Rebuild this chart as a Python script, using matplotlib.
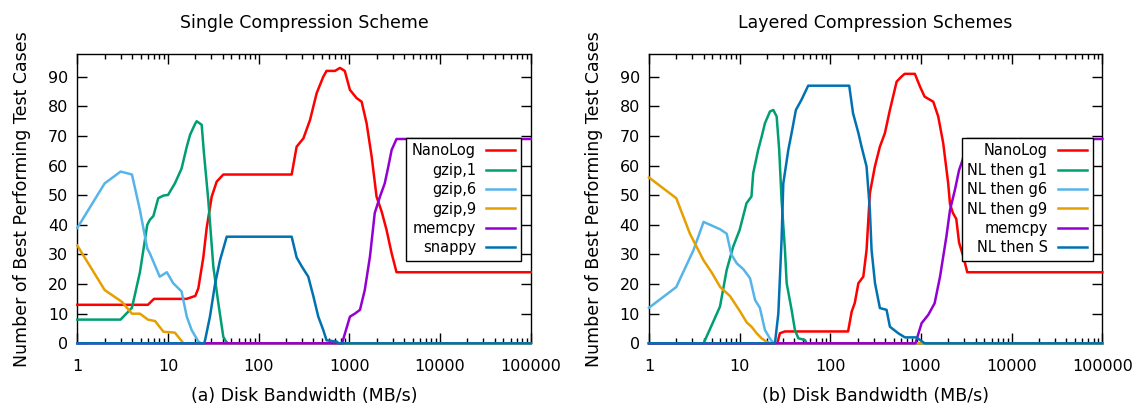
import matplotlib
matplotlib.use('Agg')
import matplotlib.pyplot as plt
from matplotlib.ticker import FixedLocator, LogLocator, NullFormatter

plt.rcParams['font.family'] = ['DejaVu Sans']

COLORS = {'red': '#ff0000', 'green': '#009e73', 'sky': '#56b4e9',
          'orange': '#e69f00', 'purple': '#9400d3', 'blue': '#0072b2'}

# ---- (a) single compression scheme ----
a_nanolog_x = [1, 6, 7, 16, 20, 21.6, 24.5, 26.7, 30.3, 34.4, 40.7, 231, 262, 311, 368,
               436, 515, 560, 694, 787, 890, 1014, 1202, 1365, 1549, 1762, 1995, 2270,
               2570, 2925, 3311, 100000]
a_nanolog_y = [13, 13, 15, 15, 16, 18.6, 29, 39, 49.5, 54.6, 57, 57, 66.4, 69.2, 75.4,
               84.5, 90, 92, 92, 93, 92, 85.6, 82.8, 81.6, 74.3, 63, 49.5, 44.5,
               38.3, 30.4, 24, 24]
a_gzip1_x = [1, 3, 4, 4.9, 5.9, 6.3, 6.9, 7.8, 8.9, 10, 11.9, 14.1, 16.1, 17.5, 19.8,
             20.7, 23.5, 24.9, 27.8, 31.6, 35.9, 40.7, 43.6, 46, 100000]
a_gzip1_y = [8, 8, 12, 24, 40, 41.7, 43, 49, 49.9, 50.1, 54, 59, 66.4, 70.4, 74,
             75, 73.8, 64.2, 48.4, 25.9, 13.5, 2.2, 0.6, 0, 0]
a_gzip6_x = [1, 2, 3, 4, 4.9, 5.9, 6.3, 8.1, 9.7, 11.4, 14.1, 16.1, 18.2, 21.6, 23, 100000]
a_gzip6_y = [39, 54, 58, 57, 45, 32, 30.4, 22.5, 24, 20.3, 17.5, 9, 4.5, 0.6, 0, 0]
a_gzip9_x = [1, 2, 3.1, 4, 4.9, 6, 7.2, 8.9, 11.9, 14.8, 100000]
a_gzip9_y = [33, 18, 14, 10, 10, 8, 7.5, 3.9, 3.6, 0, 0]
a_memcpy_x = [1, 830, 1015, 1148, 1309, 1479, 1687, 1905, 2173, 2455, 2690, 2925,
              3311, 100000]
a_memcpy_y = [0, 0, 9, 10, 11.3, 18, 29.3, 44, 49.5, 54, 59.7, 65.3, 69, 69]
a_snappy_x = [1, 25, 25.6, 29, 33, 37.4, 44.4, 231, 262, 298, 352, 400, 454, 515,
              560, 724, 760, 100000]
a_snappy_y = [0, 0, 1, 9, 20, 28, 36, 36, 29, 26, 22.5, 16, 9, 4.5, 1, 0.6, 0, 0]

# ---- (b) layered compression schemes ----
b_nanolog_x = [1, 26, 27.8, 31.6, 157, 172, 186, 204, 231, 251, 273, 310, 352, 400,
               454, 539, 611, 660, 856, 975, 1096, 1365, 1549, 1758, 1995, 2089, 2250,
               2450, 2630, 2951, 3236, 100000]
b_nanolog_y = [0, 0, 3.4, 4, 4, 10.7, 13.6, 20.3, 22.5, 31.5, 50.7, 59.7, 66.4, 71,
               78.8, 88.4, 90.1, 91, 91, 86.7, 83.3, 81.6, 76.6, 67.6, 54, 47, 44,
               42, 34, 29, 24, 24]
b_g1_x = [1, 4, 4.9, 6.07, 7.2, 8.5, 10, 11.9, 13.5, 14.1, 16, 17.5, 19, 21.6, 23.5,
          25.6, 27.3, 29, 31.6, 33, 37.4, 40.7, 44.4, 52.5, 55, 100000]
b_g1_y = [0, 0, 6, 12.4, 24.8, 32.7, 38.3, 47.3, 49.6, 57.4, 65.3, 69.8, 74.3, 78.3, 78.8,
          76.6, 65.3, 48.4, 31.5, 20.3, 11.3, 4.5, 1.7, 1.1, 0, 0]
b_g6_x = [1, 2, 3.1, 4, 6.1, 7.2, 8.1, 9.3, 11, 13, 14.8, 16.7, 19, 21.5, 23.6, 100000]
b_g6_y = [12, 19, 31.5, 41, 38.5, 37, 30, 27, 25, 22, 14.6, 12, 4.5, 1.7, 0, 0]
b_g9_x = [1, 2, 2.83, 4, 4.9, 6.1, 7.8, 10, 12, 13.5, 15.4, 17.4, 19.6, 22, 100000]
b_g9_y = [56, 49, 37, 28, 24, 19, 16, 11, 7, 5.6, 3.4, 1.7, 0.6, 0, 0]
b_memcpy_x = [1, 870, 891, 1016, 1202, 1413, 1622, 1905, 2089, 2366, 2630, 2884,
              3236, 100000]
b_memcpy_y = [0, 0, 1.1, 6.8, 9.6, 13.5, 22.5, 36, 45, 51.8, 58.5, 62, 69, 69]
b_s_x = [1, 24.5, 26.7, 29, 30.3, 34.4, 37.4, 41.7, 48, 57, 161.6, 178, 204, 221, 251,
         273, 285, 311, 352, 417, 454, 561, 665, 891, 1096, 100000]
b_s_y = [0, 0, 10, 35, 54, 65.3, 71, 78.8, 82.2, 87, 87, 77.7, 71, 66.4, 59.7,
         45, 31.5, 20.3, 11.9, 11.3, 5.6, 3.4, 2, 2, 0, 0]

panels = [
    ("Single Compression Scheme", "(a) Disk Bandwidth (MB/s)", [
        ("NanoLog", a_nanolog_x, a_nanolog_y, 'red'),
        ("gzip,1", a_gzip1_x, a_gzip1_y, 'green'),
        ("gzip,6", a_gzip6_x, a_gzip6_y, 'sky'),
        ("gzip,9", a_gzip9_x, a_gzip9_y, 'orange'),
        ("memcpy", a_memcpy_x, a_memcpy_y, 'purple'),
        ("snappy", a_snappy_x, a_snappy_y, 'blue'),
    ], 0.0675),
    ("Layered Compression Schemes", "(b) Disk Bandwidth (MB/s)", [
        ("NanoLog", b_nanolog_x, b_nanolog_y, 'red'),
        ("NL then g1", b_g1_x, b_g1_y, 'green'),
        ("NL then g6", b_g6_x, b_g6_y, 'sky'),
        ("NL then g9", b_g9_x, b_g9_y, 'orange'),
        ("memcpy", b_memcpy_x, b_memcpy_y, 'purple'),
        ("NL then S", b_s_x, b_s_y, 'blue'),
    ], 0.5663),
]

xticks = [1, 10, 100, 1000, 10000, 100000]

fig = plt.figure(figsize=(11.46, 4.08), dpi=100)
fig.patch.set_facecolor('white')

for title, xlabel, series, left in panels:
    ax = fig.add_axes([left, 0.1586, 0.3956, 0.709])
    for label, xs, ys, c in series:
        ax.plot(xs, ys, color=COLORS[c], lw=1.8, label=label, clip_on=False, zorder=3)
    ax.set_xscale('log')
    ax.set_xlim(1, 100000)
    ax.set_ylim(0, 97.7)
    ax.xaxis.set_major_locator(FixedLocator(xticks))
    ax.set_xticklabels([str(t) for t in xticks])
    ax.xaxis.set_minor_locator(LogLocator(base=10, subs=range(2, 10)))
    ax.xaxis.set_minor_formatter(NullFormatter())
    ax.set_yticks(range(0, 100, 10))
    ax.tick_params(which='major', direction='in', length=7, width=1, top=True, right=True,
                   labelsize=11.5, colors='black')
    ax.tick_params(axis='x', which='major', pad=11)
    ax.tick_params(axis='y', which='major', pad=6.5)
    ax.tick_params(which='minor', direction='in', length=3.6, width=1, top=True, right=True)
    for s in ax.spines.values():
        s.set_linewidth(1.0)
        s.set_color('black')
    ax.set_title(title, fontsize=12.5, pad=19)
    ax.set_xlabel(xlabel, fontsize=12.5, labelpad=10)
    ax.set_ylabel("Number of Best Performing Test Cases", fontsize=12.5, labelpad=12)
    leg = ax.legend(loc='upper right', bbox_to_anchor=(0.979, 0.711), markerfirst=False,
                    fontsize=10.5, frameon=True, fancybox=False, framealpha=1,
                    edgecolor='black', borderaxespad=0, borderpad=0.4,
                    labelspacing=0.3, handlelength=2.0, handletextpad=0.7)
    leg.get_frame().set_linewidth(1.0)
    leg.set_zorder(5)

fig.savefig('out.png', dpi=100, facecolor='white')
